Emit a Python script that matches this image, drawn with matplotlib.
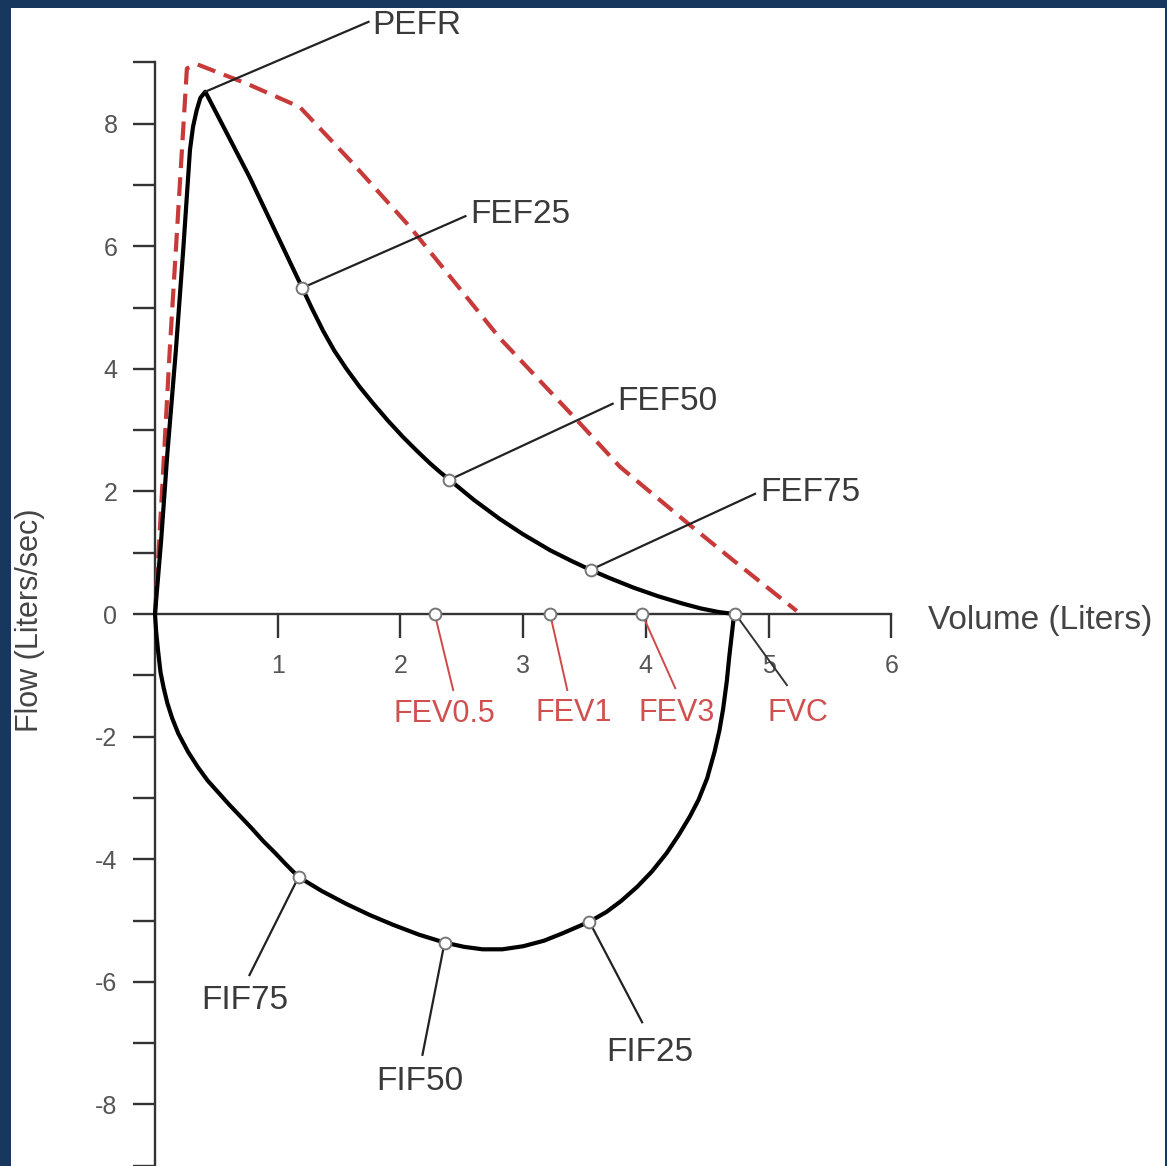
import matplotlib.pyplot as plt
from matplotlib.patches import Rectangle

plt.rcParams['font.family'] = ['Liberation Sans', 'DejaVu Sans']
plt.rcParams['axes.unicode_minus'] = False

# courbe débit-volume mesurée (expiration)
exp_vol = [0, 0.05, 0.1, 0.17, 0.23, 0.285, 0.31, 0.34, 0.37, 0.41, 0.77, 1.2,
           1.28, 1.37, 1.46, 1.56, 1.67, 1.78, 1.9, 2.02, 2.13, 2.24, 2.32, 2.4,
           2.6, 2.81, 3.0, 3.22, 3.4, 3.55, 3.7, 3.9, 4.1, 4.3, 4.45, 4.6, 4.72]
exp_flow = [0, 1.2, 2.6, 4.3, 5.94, 7.57, 7.95, 8.22, 8.42, 8.52, 7.13, 5.32,
            4.98, 4.62, 4.3, 4.0, 3.7, 3.43, 3.15, 2.89, 2.67, 2.46, 2.32, 2.19,
            1.86, 1.55, 1.3, 1.04, 0.86, 0.72, 0.59, 0.43, 0.29, 0.17, 0.09,
            0.03, 0]

# inspiration
insp_vol = [0, 0.01, 0.025, 0.045, 0.07, 0.1, 0.14, 0.19, 0.27, 0.35, 0.43,
            0.52, 0.6, 0.7, 0.79, 0.88, 0.98, 1.07, 1.17, 1.36, 1.56, 1.75,
            1.94, 2.15, 2.36, 2.52, 2.67, 2.83, 3.0, 3.17, 3.32, 3.54, 3.68,
            3.8, 3.93, 4.05, 4.17, 4.27, 4.36, 4.43, 4.5, 4.56, 4.6, 4.63,
            4.66, 4.68, 4.7, 4.72]
insp_flow = [0, -0.3, -0.6, -0.95, -1.2, -1.45, -1.7, -1.95, -2.25, -2.5,
             -2.72, -2.92, -3.1, -3.31, -3.5, -3.7, -3.9, -4.09, -4.29, -4.52,
             -4.73, -4.91, -5.07, -5.23, -5.36, -5.43, -5.47, -5.47, -5.42,
             -5.33, -5.21, -5.02, -4.86, -4.68, -4.45, -4.2, -3.9, -3.6, -3.3,
             -3.03, -2.68, -2.25, -1.9, -1.55, -1.1, -0.7, -0.35, 0]

# courbe théorique (pointillés rouges)
pred_vol = [0, 0.06, 0.12, 0.19, 0.26, 0.34, 0.75, 1.18, 1.59, 2.08, 2.81,
            3.44, 3.79, 4.36, 4.71, 5.23]
pred_flow = [0, 2.1, 4.3, 6.6, 8.9, 8.97, 8.65, 8.27, 7.4, 6.31, 4.5, 3.16,
             2.4, 1.45, 0.88, 0.05]

# points remarquables
exp_names = ['PEFR', 'FEF25', 'FEF50', 'FEF75']
exp_pt_vol = [0.41, 1.2, 2.4, 3.55]
exp_pt_flow = [8.52, 5.32, 2.19, 0.72]

insp_names = ['FIF75', 'FIF50', 'FIF25']
insp_pt_vol = [1.17, 2.36, 3.54]
insp_pt_flow = [-4.29, -5.36, -5.02]

fev_names = ['FEV0.5', 'FEV1', 'FEV3', 'FVC']
fev_vol = [2.28, 3.22, 3.97, 4.73]

# placement des étiquettes (fin du trait, position du texte)
exp_lead = [(1.74, 9.66), (2.53, 6.49), (3.73, 3.43), (4.89, 1.96)]
exp_txt = [(1.77, 9.6), (2.57, 6.52), (3.77, 3.46), (4.93, 1.99)]
insp_lead = [(0.77, -5.89), (2.18, -7.19), (3.97, -6.66)]
insp_txt = [(0.73, -6.30), (2.16, -7.63), (4.03, -7.15)]
fev_lead = [(2.43, -1.24), (3.36, -1.24), (4.24, -1.21), (5.15, -1.16)]
fev_txt = [(2.36, -1.63), (3.41, -1.62), (4.25, -1.62), (5.24, -1.62)]

W, H = 1167, 1166
fig = plt.figure(figsize=(W / 100, H / 100), dpi=100, facecolor='white')
ax = fig.add_axes([11 / W, 0, 1154 / W, 1158 / H])
ax.set_facecolor('white')
ax.set_xlim((11 - 155) / 122.7, (1165 - 155) / 122.7)
ax.set_ylim((614 - 1166) / 61.3, (614 - 8) / 61.3)

for s in ['top', 'right']:
    ax.spines[s].set_visible(False)
ax.spines['left'].set_position(('data', 0))
ax.spines['bottom'].set_position(('data', 0))
ax.spines['left'].set_bounds(-9, 9)
ax.spines['bottom'].set_bounds(0, 6)
for s in ['left', 'bottom']:
    ax.spines[s].set_linewidth(1.7)
    ax.spines[s].set_color('#333333')

ax.set_yticks(range(-8, 9, 2))
ax.set_yticks(range(-9, 10, 2), minor=True)
ax.set_xticks(range(1, 7))
ax.tick_params(axis='y', which='both', direction='out', length=16, width=1.7,
               color='#333333', pad=11, labelsize=18, labelcolor='#555555')
ax.tick_params(axis='x', which='both', direction='out', length=17, width=1.7,
               color='#333333', pad=12, labelsize=18, labelcolor='#555555')

# courbes
ax.plot(pred_vol, pred_flow, color='#c83a3a', lw=3, dashes=(4.5, 2.2),
        zorder=3)
ax.plot(exp_vol, exp_flow, color='black', lw=3, zorder=4,
        solid_joinstyle='round', solid_capstyle='round', clip_on=False)
ax.plot(insp_vol, insp_flow, color='black', lw=3, zorder=4,
        solid_joinstyle='round', solid_capstyle='round', clip_on=False)

mk = dict(marker='o', ms=8.5, mfc='white', mec='#777777', mew=1.4,
          ls='none', zorder=6)
txt_black = dict(fontsize=24, color='#3a3a3a', va='center')

for name, x, y, (lx, ly), (tx, ty) in zip(exp_names, exp_pt_vol, exp_pt_flow,
                                          exp_lead, exp_txt):
    ax.plot([x, lx], [y, ly], color='#222222', lw=1.6, zorder=5, clip_on=False)
    ax.text(tx, ty, name, ha='left', **txt_black)
ax.plot(exp_pt_vol[1:], exp_pt_flow[1:], **mk)

for name, x, y, (lx, ly), (tx, ty) in zip(insp_names, insp_pt_vol,
                                          insp_pt_flow, insp_lead, insp_txt):
    ax.plot([x, lx], [y, ly], color='#222222', lw=1.6, zorder=5)
    ax.text(tx, ty, name, ha='center', **txt_black)
ax.plot(insp_pt_vol, insp_pt_flow, **mk)

for name, x, (lx, ly), (tx, ty) in zip(fev_names, fev_vol, fev_lead, fev_txt):
    col = '#333333' if name == 'FVC' else '#d04848'
    ax.plot([x, lx], [0, ly], color=col, lw=1.4, zorder=5)
    ax.text(tx, ty, name, ha='center', va='center', fontsize=22,
            color='#d05050')
ax.plot(fev_vol, [0] * len(fev_vol), **mk)

ax.text((928 - 155) / 122.7, -0.1, 'Volume (Liters)', fontsize=24,
        color='#444444', ha='left', va='center')
ax.text((45 - 155) / 122.7, -0.1, 'Flow (Liters/sec)', fontsize=22,
        color='#444444', ha='right', va='center', rotation=90)

# cadre bleu autour de l'image
border = '#18375f'
for (x0, y0, w, h) in [(0, 1 - 8 / H, 1, 8 / H), (0, 0, 11 / W, 1),
                       (1 - 2 / W, 0, 2 / W, 1)]:
    fig.add_artist(Rectangle((x0, y0), w, h, transform=fig.transFigure,
                             facecolor=border, edgecolor='none', zorder=10))

fig.savefig('out.png', dpi=100, facecolor='white')
